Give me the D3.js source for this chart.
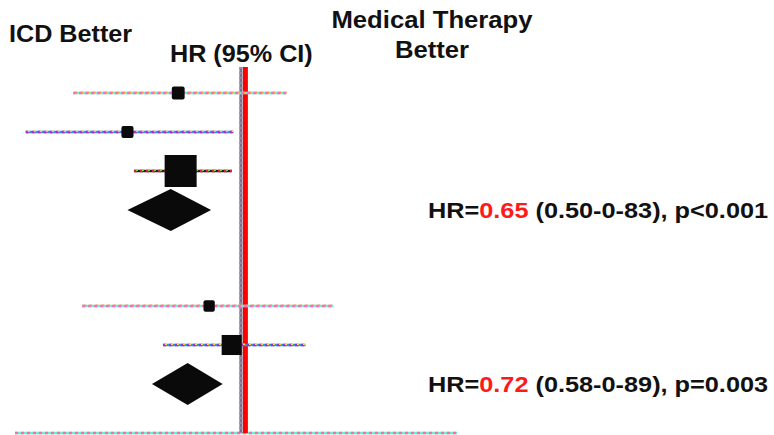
<!DOCTYPE html>
<html>
<head>
<meta charset="utf-8">
<script src="https://cdn.jsdelivr.net/npm/d3@7/dist/d3.min.js"></script>
<style>
  html, body { margin: 0; padding: 0; background: #fff; }
  svg { display: block; }
  text { font-family: "Liberation Sans", Arial, sans-serif; font-weight: bold; fill: #111; }
</style>
</head>
<body>
<script>
// Trial groups and the individual trials in each (hazard ratios, 95% CI, weight %)
const groups = ["Ischemic", "Non-ischemic"];
const studyGroup = [0, 0, 0, 1, 1];
const studyHR = [0.68, 0.50, 0.69, 0.82, 0.94];
const studyLo = [0.36, 0.27, 0.52, 0.38, 0.62];
const studyHi = [1.31, 0.95, 0.94, 1.74, 1.47];
const studyWeight = [9, 8, 56, 7, 22];

// Pooled estimates per group
const pooledHR = [0.65, 0.72];
const pooledLo = [0.50, 0.58];
const pooledHi = [0.83, 0.89];
const pooledHRText = ["0.65", "0.72"];
const pooledCIText = ["(0.50-0-83)", "(0.58-0-89)"];
const pooledPText = ["p<0.001", "p=0.003"];

// Header labels
const leftHeader = "ICD Better";
const midHeader = "HR (95% CI)";
const rightHeader = ["Medical Therapy", "Better"];

const W = 774, H = 435;
const svg = d3.select("body").append("svg").attr("width", W).attr("height", H);

// Hazard ratios on a log axis
const x = d3.scaleLog().domain([0.253, 3.68]).range([15, 457]);
// Group blocks and rows inside each block
const groupY = d3.scalePoint().domain(groups).range([93, 306]);
const rowStep = 39;
const size = d3.scaleSqrt().domain([0, 56]).range([0, 32]);

// Dotted, colour-fringed line used for the CI whiskers and the axis
function fringeLine(x1, x2, y, cols, w) {
  const g = svg.append("g");
  g.append("line").attr("x1", x1).attr("x2", x2).attr("y1", y).attr("y2", y)
    .attr("stroke", cols[0]).attr("stroke-width", w);
  g.append("line").attr("x1", x1).attr("x2", x2).attr("y1", y).attr("y2", y)
    .attr("stroke", cols[1]).attr("stroke-width", w).attr("stroke-dasharray", "3,3");
  if (cols[2]) {
    g.append("line").attr("x1", x1).attr("x2", x2).attr("y1", y - w * 0.3).attr("y2", y - w * 0.3)
      .attr("stroke", cols[2]).attr("stroke-width", w * 0.6)
      .attr("stroke-dasharray", "2,4").attr("stroke-dashoffset", 4);
  }
  return g;
}

const whiskerColors = [
  ["#70ecd0", "#ff6ab8", "#ff9a40"],
  ["#2f90ff", "#b02cb0", "#ece040"],
  ["#202020", "#e01848", "#80e030"],
  ["#70ecd0", "#ff6ab8", "#ff9a40"],
  ["#2f90ff", "#b02cb0", "#ece040"]
];

// Baseline axis
const axisY = 433;
fringeLine(x.range()[0], x.range()[1], axisY, ["#70ecc8", "#ff6ab8"], 2.6);

// Line of no effect (HR = 1)
const topY = 67;
svg.append("line").attr("x1", x(1) - 1).attr("x2", x(1) - 1)
  .attr("y1", topY).attr("y2", axisY)
  .attr("stroke", "#707888").attr("stroke-width", 3);
svg.append("line").attr("x1", x(1) - 1).attr("x2", x(1) - 1)
  .attr("y1", topY).attr("y2", axisY)
  .attr("stroke", "#a080b0").attr("stroke-width", 3).attr("stroke-dasharray", "2,3");
svg.append("line").attr("x1", x(1) + 3.5).attr("x2", x(1) + 3.5)
  .attr("y1", topY).attr("y2", axisY)
  .attr("stroke", "#ff0000").attr("stroke-width", 5);

// Individual trials: CI whisker + weighted square
const rowIndex = [];
const counts = groups.map(() => 0);
studyGroup.forEach((g) => { rowIndex.push(counts[g]++); });

studyHR.forEach((hr, i) => {
  const y = groupY(groups[studyGroup[i]]) + rowIndex[i] * rowStep;
  fringeLine(x(studyLo[i]), x(studyHi[i]), y, whiskerColors[i], 2.6);
  const s = size(studyWeight[i]);
  svg.append("rect")
    .attr("x", x(hr) - s / 2).attr("y", y - s / 2)
    .attr("width", s).attr("height", s)
    .attr("rx", s < 14 ? 2 : 0)
    .attr("fill", "#0a0a0a");
});

// Pooled diamonds and their labels
const diamondH = 42;
pooledHR.forEach((hr, gi) => {
  const y = groupY(groups[gi]) + counts[gi] * rowStep;
  const pts = [
    [x(pooledLo[gi]), y], [x(hr), y - diamondH / 2],
    [x(pooledHi[gi]), y], [x(hr), y + diamondH / 2]
  ];
  svg.append("path").attr("d", d3.line()(pts) + "Z").attr("fill", "#0a0a0a");

  const t = svg.append("text")
    .attr("transform", `translate(428,${y + 7.5}) scale(1.15,1)`)
    .attr("font-size", 22);
  t.append("tspan").text("HR=");
  t.append("tspan").style("fill", "#ff1a1a").text(pooledHRText[gi]);
  t.append("tspan").text(" " + pooledCIText[gi] + ", " + pooledPText[gi]);
});

// Headers
svg.append("text").attr("transform", "translate(9,42) scale(1.05,1)")
  .attr("font-size", 24).text(leftHeader);
svg.append("text").attr("transform", "translate(170,62) scale(1.05,1)")
  .attr("font-size", 24).text(midHeader);
rightHeader.forEach((s, i) => {
  svg.append("text").attr("transform", `translate(432,${28 + i * 30}) scale(1.07,1)`)
    .attr("text-anchor", "middle").attr("font-size", 24).text(s);
});
</script>
</body>
</html>
